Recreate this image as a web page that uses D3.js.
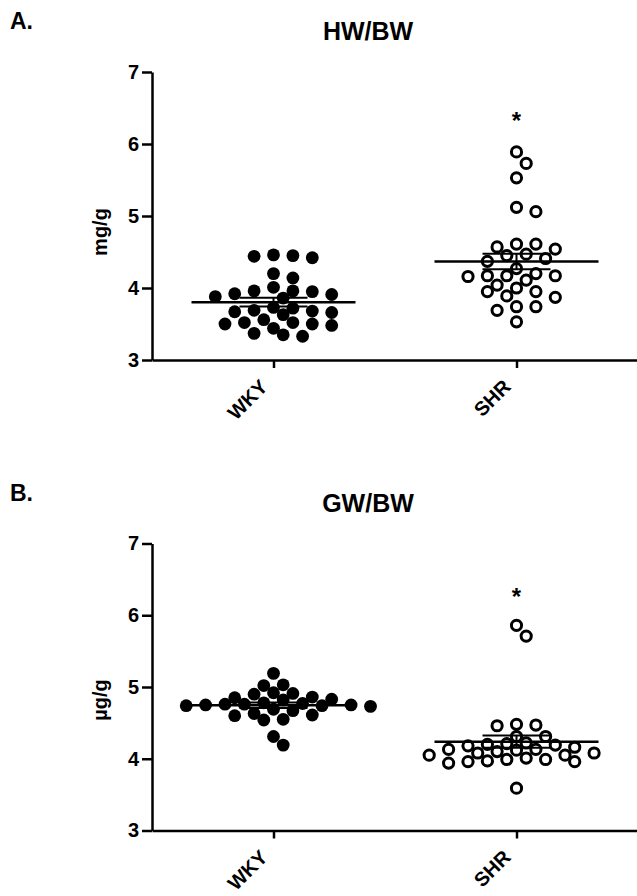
<!DOCTYPE html>
<html>
<head>
<meta charset="utf-8">
<script src="https://cdn.jsdelivr.net/npm/d3@7"></script>
<style>
  body { margin: 0; background: #fff; }
  svg text { font-family: "Liberation Sans", Arial, sans-serif; font-weight: bold; fill: #000; }
  .axis path, .axis line { stroke: #000; stroke-width: 2.5; }
</style>
</head>
<body>
<div id="chart"></div>
<script>
// values
var categories = ["WKY", "SHR"];
var yTicks = [3, 4, 5, 6, 7];

var wkyHW = [4.45, 4.42, 4.44, 4.46, 4.20, 4.14,
    4.01, 3.95, 3.92, 3.88, 3.86, 3.91, 3.96, 3.96,
    3.72, 3.69, 3.66, 3.63, 3.67, 3.68, 3.73,
    3.50, 3.48, 3.52, 3.52, 3.56, 3.44, 3.50,
    3.37, 3.33, 3.35];
var shrHW = [5.89, 5.73, 5.53, 5.06, 5.12,
    4.61, 4.57, 4.47, 4.41, 4.45, 4.54, 4.61, 4.37,
    4.27, 4.17, 4.16, 4.11, 4.17, 4.17, 4.20,
    4.04, 3.95, 3.89, 3.87, 3.95, 4.00,
    3.74, 3.69, 3.74, 3.53];

var wkyGW = [5.19, 5.02, 5.03, 4.91, 4.90, 4.92, 4.86, 4.83, 4.85, 4.82,
    4.76, 4.74, 4.75, 4.77, 4.78, 4.76, 4.73, 4.75, 4.74,
    4.67, 4.61, 4.55, 4.54, 4.60, 4.63, 4.69,
    4.31, 4.19];
var shrGW = [5.86, 5.71, 4.48, 4.47, 4.46, 4.31, 4.31,
    4.18, 4.20, 4.22, 4.21, 4.19, 4.16,
    4.13, 4.13, 4.10, 4.08, 4.05, 4.05, 4.08, 4.12,
    3.99, 3.96, 3.96, 3.94, 3.97, 3.99, 4.01, 3.59];

var width = 637, height = 896;

var svg = d3.select("#chart").append("svg")
    .attr("width", width)
    .attr("height", height);

var x = d3.scalePoint()
    .domain(categories)
    .range([152, 638])
    .padding(0.5);

var halfStep = 9.7, diam = 11.6;

// column scatter: slots every half step, points kept apart by about one diameter
function swarm(vals, cx, y) {
    var placed = [];
    vals.slice().sort((a, b) => b - a).forEach(function(v) {
        var py = y(v), px = cx;
        for (var i = 0; i < 60; i++) {
            var k = i === 0 ? 0 : (i % 2 ? (i + 1) / 2 : -i / 2);
            px = cx + k * halfStep;
            var hit = placed.some(p => Math.hypot(p.x - px, p.y - py) < diam);
            if (!hit) break;
        }
        placed.push({x: px, y: py, v: v});
    });
    return placed;
}

function panel(opts) {
    var y = d3.scaleLinear()
        .domain([3, 7])
        .range([opts.bottom, opts.top]);

    var g = svg.append("g");

    g.append("text")
        .attr("x", 10).attr("y", opts.top - 43)
        .style("font-size", "23px")
        .text(opts.letter);

    g.append("text")
        .attr("x", 368).attr("y", opts.top - 32)
        .attr("text-anchor", "middle")
        .style("font-size", "25px")
        .text(opts.title);

    g.append("text")
        .attr("transform", `translate(107,${opts.labelY}) rotate(-90)`)
        .attr("text-anchor", "middle")
        .style("font-size", "20px")
        .text(opts.unit);

    var yAxis = g.append("g")
        .attr("class", "axis")
        .attr("transform", "translate(152,0)")
        .call(d3.axisLeft(y).tickValues(yTicks).tickFormat(d3.format("d"))
            .tickSize(10).tickSizeOuter(0).tickPadding(3));
    yAxis.selectAll("text").style("font-size", "20px");

    var xAxis = g.append("g")
        .attr("class", "axis")
        .attr("transform", `translate(0,${opts.bottom})`)
        .call(d3.axisBottom(x).tickSize(8).tickSizeOuter(0));
    xAxis.selectAll("text")
        .style("font-size", "20px")
        .attr("text-anchor", "end")
        .attr("dy", null)
        .attr("transform", "translate(-5,28) rotate(-45)")
        .attr("y", 0).attr("x", 0);

    var groups = [
        {key: "WKY", vals: opts.wky, filled: true},
        {key: "SHR", vals: opts.shr, filled: false}
    ];

    groups.forEach(function(gr) {
        var pts = swarm(gr.vals, x(gr.key), y);
        g.selectAll(null)
            .data(pts)
            .enter().append("circle")
            .attr("cx", d => d.x)
            .attr("cy", d => d.y)
            .attr("r", gr.filled ? 6.4 : 5.1)
            .attr("fill", gr.filled ? "#000" : "#fff")
            .attr("stroke", "#000")
            .attr("stroke-width", gr.filled ? 0 : 3);

        var m = d3.mean(gr.vals);
        var sem = d3.deviation(gr.vals) / Math.sqrt(gr.vals.length);
        var cx = x(gr.key);
        g.append("line")
            .attr("x1", cx - 82).attr("x2", cx + 82)
            .attr("y1", y(m)).attr("y2", y(m))
            .attr("stroke", "#000").attr("stroke-width", 2.5);
        [m - sem, m + sem].forEach(function(e) {
            g.append("line")
                .attr("x1", cx - 34).attr("x2", cx + 34)
                .attr("y1", y(e)).attr("y2", y(e))
                .attr("stroke", "#000").attr("stroke-width", 2);
        });
        g.append("line")
            .attr("x1", cx).attr("x2", cx)
            .attr("y1", y(m - sem)).attr("y2", y(m + sem))
            .attr("stroke", "#000").attr("stroke-width", 2);
    });

    g.append("text")
        .attr("x", x("SHR")).attr("y", opts.starY)
        .attr("text-anchor", "middle")
        .style("font-size", "24px")
        .text("*");
}

panel({letter: "A.", title: "HW/BW", unit: "mg/g", top: 72, bottom: 360,
    labelY: 232, starY: 129, wky: wkyHW, shr: shrHW});
panel({letter: "B.", title: "GW/BW", unit: "\u00b5g/g", top: 543.5, bottom: 830.5,
    labelY: 700, starY: 605, wky: wkyGW, shr: shrGW});
</script>
</body>
</html>
